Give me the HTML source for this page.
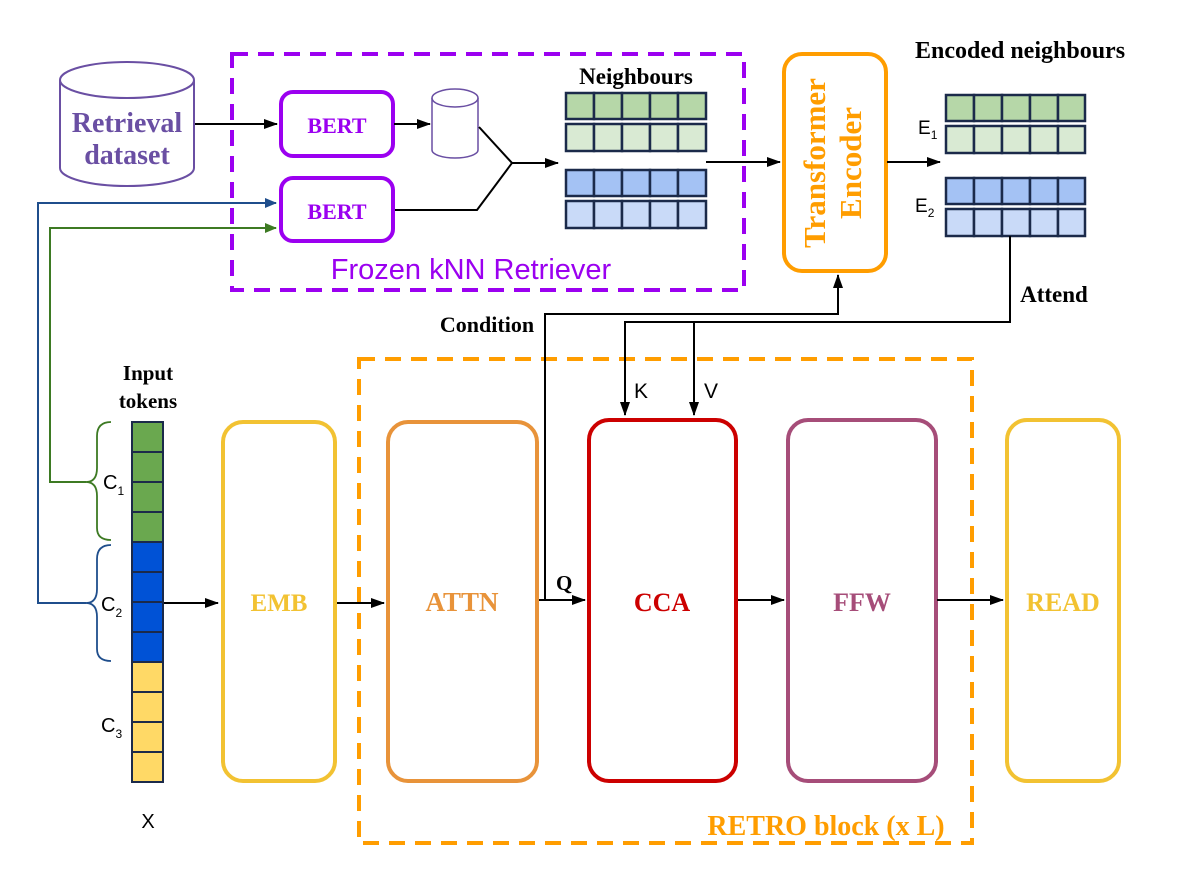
<!DOCTYPE html>
<html><head><meta charset="utf-8"><style>
html,body{margin:0;padding:0;background:#fff}
svg{display:block}
.s{font-family:"Liberation Serif",serif;font-weight:bold}
.a{font-family:"Liberation Sans",sans-serif}
</style></head><body>
<svg width="1177" height="877" viewBox="0 0 1177 877" xmlns="http://www.w3.org/2000/svg">
<defs>
<marker id="ar" markerWidth="14" markerHeight="10" refX="13" refY="5" orient="auto" markerUnits="userSpaceOnUse"><path d="M0,0 L14,5 L0,10 z" fill="#000"/></marker>
<marker id="ab" markerWidth="12" markerHeight="10" refX="11" refY="5" orient="auto" markerUnits="userSpaceOnUse"><path d="M0,0 L12,5 L0,10 z" fill="#1f4e8c"/></marker>
<marker id="ag" markerWidth="12" markerHeight="10" refX="11" refY="5" orient="auto" markerUnits="userSpaceOnUse"><path d="M0,0 L12,5 L0,10 z" fill="#3d7a23"/></marker>
</defs>
<rect x="232" y="54" width="512" height="236" fill="none" stroke="#9b00f0" stroke-width="4" stroke-dasharray="16,10"/>
<rect x="359" y="359" width="613" height="484" fill="none" stroke="#ff9d00" stroke-width="4" stroke-dasharray="16,10"/>
<text x="471" y="279" class="a" font-size="29" fill="#9b00f0" text-anchor="middle">Frozen kNN Retriever</text>
<text x="826" y="835" class="s" font-size="28" fill="#ff9d00" text-anchor="middle">RETRO block (x L)</text>
<path d="M60,80 L60,168 A67,18 0 0 0 194,168 L194,80" fill="#fff" stroke="#6a4fa3" stroke-width="2"/>
<ellipse cx="127" cy="80" rx="67" ry="18" fill="#fff" stroke="#6a4fa3" stroke-width="2"/>
<text x="127" y="132" class="s" font-size="28" fill="#6a4fa3" text-anchor="middle">Retrieval</text>
<text x="127" y="164" class="s" font-size="28" fill="#6a4fa3" text-anchor="middle">dataset</text>
<path d="M432,98 L432,150 A23,8 0 0 0 478,150 L478,98" fill="#fff" stroke="#6a4fa3" stroke-width="1.5"/>
<ellipse cx="455" cy="98" rx="23" ry="9" fill="#fff" stroke="#6a4fa3" stroke-width="1.5"/>
<rect x="281" y="92" width="112" height="64" rx="12" fill="#fff" stroke="#9b00f0" stroke-width="4"/>
<rect x="281" y="178" width="112" height="63" rx="12" fill="#fff" stroke="#9b00f0" stroke-width="4"/>
<text x="337" y="133" class="s" font-size="22" fill="#9b00f0" text-anchor="middle">BERT</text>
<text x="337" y="219" class="s" font-size="22" fill="#9b00f0" text-anchor="middle">BERT</text>
<line x1="195" y1="124" x2="277" y2="124" stroke="#000" stroke-width="2" marker-end="url(#ar)"/>
<line x1="394" y1="124" x2="430" y2="124" stroke="#000" stroke-width="2" marker-end="url(#ar)"/>
<path d="M479,127 L512,163 L477,210 L395,210" fill="none" stroke="#000" stroke-width="2"/>
<line x1="512" y1="163" x2="558" y2="163" stroke="#000" stroke-width="2" marker-end="url(#ar)"/>
<text x="636" y="84" class="s" font-size="23" fill="#000" text-anchor="middle">Neighbours</text>
<g stroke="#1b2a4a" stroke-width="2.5">
<g fill="#b6d7a8"><rect x="566" y="93" width="28" height="26"/><rect x="594" y="93" width="28" height="26"/><rect x="622" y="93" width="28" height="26"/><rect x="650" y="93" width="28" height="26"/><rect x="678" y="93" width="28" height="26"/></g>
<g fill="#d9ead3"><rect x="566" y="124" width="28" height="27"/><rect x="594" y="124" width="28" height="27"/><rect x="622" y="124" width="28" height="27"/><rect x="650" y="124" width="28" height="27"/><rect x="678" y="124" width="28" height="27"/></g>
<g fill="#a4c2f4"><rect x="566" y="170" width="28" height="26"/><rect x="594" y="170" width="28" height="26"/><rect x="622" y="170" width="28" height="26"/><rect x="650" y="170" width="28" height="26"/><rect x="678" y="170" width="28" height="26"/></g>
<g fill="#c9daf8"><rect x="566" y="201" width="28" height="27"/><rect x="594" y="201" width="28" height="27"/><rect x="622" y="201" width="28" height="27"/><rect x="650" y="201" width="28" height="27"/><rect x="678" y="201" width="28" height="27"/></g>
<g fill="#b6d7a8"><rect x="946" y="95" width="28" height="26"/><rect x="974" y="95" width="28" height="26"/><rect x="1002" y="95" width="28" height="26"/><rect x="1030" y="95" width="28" height="26"/><rect x="1058" y="95" width="27" height="26"/></g>
<g fill="#d9ead3"><rect x="946" y="126" width="28" height="27"/><rect x="974" y="126" width="28" height="27"/><rect x="1002" y="126" width="28" height="27"/><rect x="1030" y="126" width="28" height="27"/><rect x="1058" y="126" width="27" height="27"/></g>
<g fill="#a4c2f4"><rect x="946" y="178" width="28" height="26"/><rect x="974" y="178" width="28" height="26"/><rect x="1002" y="178" width="28" height="26"/><rect x="1030" y="178" width="28" height="26"/><rect x="1058" y="178" width="27" height="26"/></g>
<g fill="#c9daf8"><rect x="946" y="209" width="28" height="27"/><rect x="974" y="209" width="28" height="27"/><rect x="1002" y="209" width="28" height="27"/><rect x="1030" y="209" width="28" height="27"/><rect x="1058" y="209" width="27" height="27"/></g>
</g>
<text x="1020" y="58" class="s" font-size="24" fill="#000" text-anchor="middle">Encoded neighbours</text>
<text x="918" y="134" class="a" font-size="19">E<tspan font-size="12" dy="5">1</tspan></text>
<text x="915" y="212" class="a" font-size="19">E<tspan font-size="12" dy="5">2</tspan></text>
<line x1="706" y1="162" x2="780" y2="162" stroke="#000" stroke-width="2" marker-end="url(#ar)"/>
<rect x="784" y="54" width="102" height="217" rx="18" fill="#fff" stroke="#ff9d00" stroke-width="4"/>
<text transform="translate(825,163) rotate(-90)" class="s" font-size="31" fill="#ff9d00" text-anchor="middle">Transformer</text>
<text transform="translate(861,163) rotate(-90)" class="s" font-size="31" fill="#ff9d00" text-anchor="middle">Encoder</text>
<line x1="887" y1="162" x2="940" y2="162" stroke="#000" stroke-width="2" marker-end="url(#ar)"/>
<path d="M1010,236 L1010,322 L625,322 L625,415" fill="none" stroke="#000" stroke-width="2" marker-end="url(#ar)"/>
<line x1="694" y1="322" x2="694" y2="415" stroke="#000" stroke-width="2" marker-end="url(#ar)"/>
<text x="1054" y="302" class="s" font-size="23" text-anchor="middle">Attend</text>
<text x="634" y="398" class="a" font-size="21">K</text>
<text x="704" y="398" class="a" font-size="21">V</text>
<path d="M545,601 L545,314 L838,314 L838,275" fill="none" stroke="#000" stroke-width="2" marker-end="url(#ar)"/>
<text x="487" y="332" class="s" font-size="22" text-anchor="middle">Condition</text>
<text x="556" y="590" class="s" font-size="21">Q</text>
<rect x="223" y="422" width="112" height="359" rx="20" fill="#fff" stroke="#f2c232" stroke-width="4"/>
<rect x="388" y="422" width="149" height="359" rx="20" fill="#fff" stroke="#e8933a" stroke-width="4"/>
<rect x="589" y="420" width="147" height="361" rx="20" fill="#fff" stroke="#cc0000" stroke-width="4"/>
<rect x="788" y="420" width="148" height="361" rx="20" fill="#fff" stroke="#a64d79" stroke-width="4"/>
<rect x="1007" y="420" width="112" height="361" rx="20" fill="#fff" stroke="#f2c232" stroke-width="4"/>
<text x="279" y="611" class="s" font-size="25" fill="#f2c232" text-anchor="middle">EMB</text>
<text x="462" y="611" class="s" font-size="27" fill="#e8933a" text-anchor="middle">ATTN</text>
<text x="662" y="611" class="s" font-size="26" fill="#cc0000" text-anchor="middle">CCA</text>
<text x="862" y="611" class="s" font-size="26" fill="#a64d79" text-anchor="middle">FFW</text>
<text x="1063" y="611" class="s" font-size="26" fill="#f2c232" text-anchor="middle">READ</text>
<line x1="163" y1="603" x2="218" y2="603" stroke="#000" stroke-width="2" marker-end="url(#ar)"/>
<line x1="337" y1="603" x2="384" y2="603" stroke="#000" stroke-width="2" marker-end="url(#ar)"/>
<line x1="539" y1="600" x2="585" y2="600" stroke="#000" stroke-width="2" marker-end="url(#ar)"/>
<line x1="738" y1="600" x2="784" y2="600" stroke="#000" stroke-width="2" marker-end="url(#ar)"/>
<line x1="937" y1="600" x2="1003" y2="600" stroke="#000" stroke-width="2" marker-end="url(#ar)"/>
<text x="148" y="380" class="s" font-size="21" text-anchor="middle">Input</text>
<text x="148" y="408" class="s" font-size="21" text-anchor="middle">tokens</text>
<g stroke="#1b2a4a" stroke-width="2">
<g fill="#6aa84f"><rect x="132" y="422" width="31" height="30"/><rect x="132" y="452" width="31" height="30"/><rect x="132" y="482" width="31" height="30"/><rect x="132" y="512" width="31" height="30"/></g>
<g fill="#0052d6"><rect x="132" y="542" width="31" height="30"/><rect x="132" y="572" width="31" height="30"/><rect x="132" y="602" width="31" height="30"/><rect x="132" y="632" width="31" height="30"/></g>
<g fill="#ffd966"><rect x="132" y="662" width="31" height="30"/><rect x="132" y="692" width="31" height="30"/><rect x="132" y="722" width="31" height="30"/><rect x="132" y="752" width="31" height="30"/></g>
</g>
<path d="M111,422 Q97,422 97,436 L97,468 Q97,482 86,482 Q97,482 97,496 L97,528 Q97,540 111,540" fill="none" stroke="#3d7a23" stroke-width="1.8"/>
<path d="M111,545 Q97,545 97,559 L97,589 Q97,603 86,603 Q97,603 97,617 L97,649 Q97,661 111,661" fill="none" stroke="#1f4e8c" stroke-width="1.8"/>
<path d="M86,482 L50,482 L50,228 L276,228" fill="none" stroke="#3d7a23" stroke-width="2" marker-end="url(#ag)"/>
<path d="M86,603 L38,603 L38,203 L276,203" fill="none" stroke="#1f4e8c" stroke-width="2" marker-end="url(#ab)"/>
<text x="103" y="489" class="a" font-size="20">C<tspan font-size="12" dy="6">1</tspan></text>
<text x="101" y="611" class="a" font-size="20">C<tspan font-size="12" dy="6">2</tspan></text>
<text x="101" y="732" class="a" font-size="20">C<tspan font-size="12" dy="6">3</tspan></text>
<text x="148" y="828" class="a" font-size="20" text-anchor="middle">X</text>
</svg>
</body></html>
